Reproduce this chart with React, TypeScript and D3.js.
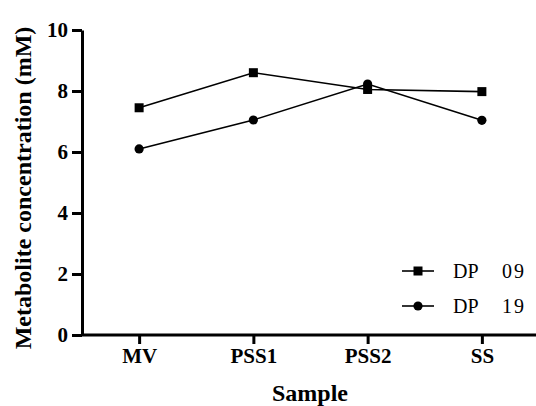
import { useEffect, useRef } from 'react'
import * as d3 from 'd3'

const SAMPLES = ['MV', 'PSS1', 'PSS2', 'SS']
const DP09 = [7.45, 8.6, 8.05, 7.98]
const DP19 = [6.1, 7.05, 8.23, 7.04]
const Y_TICKS = [0, 2, 4, 6, 8, 10]

const FONT = '"Liberation Serif", "Times New Roman", serif'

export default function App() {
  const svgRef = useRef<SVGSVGElement>(null)

  useEffect(() => {
    if (!svgRef.current) return
    const W = 536
    const H = 406
    const left = 82, top = 30, bottom = 335, right = 539

    const svg = d3.select(svgRef.current)
    svg.selectAll('*').remove()
    svg.attr('width', W).attr('height', H)

    const x = d3.scalePoint<string>().domain(SAMPLES).range([left, right]).padding(0.5)
    const y = d3.scaleLinear().domain([0, 10]).range([bottom, top])

    // y axis
    const gy = svg.append('g').attr('transform', `translate(${left},0)`)
      .call(d3.axisLeft(y).tickValues(Y_TICKS).tickSize(10).tickPadding(4).tickSizeOuter(0))
    gy.select('.domain').attr('stroke', '#000').attr('stroke-width', 3)
    gy.selectAll('.tick line').attr('stroke', '#000').attr('stroke-width', 3)
    gy.selectAll('.tick text')
      .attr('fill', '#000').attr('font-family', FONT).attr('font-weight', 'bold').attr('font-size', 21)

    // x axis
    const gx = svg.append('g').attr('transform', `translate(0,${bottom})`)
      .call(d3.axisBottom(x).tickSize(9).tickPadding(4).tickSizeOuter(0))
    gx.select('.domain').attr('stroke', '#000').attr('stroke-width', 3)
      .attr('d', `M${left},0H${W}`)
    gx.selectAll('.tick line').attr('stroke', '#000').attr('stroke-width', 3)
    gx.selectAll('.tick text')
      .attr('fill', '#000').attr('font-family', FONT).attr('font-weight', 'bold').attr('font-size', 21)

    // titles
    svg.append('text')
      .attr('x', 310).attr('y', 401)
      .attr('text-anchor', 'middle')
      .attr('font-family', FONT).attr('font-weight', 'bold').attr('font-size', 24)
      .text('Sample')
    svg.append('text')
      .attr('transform', 'translate(31,188) rotate(-90)')
      .attr('text-anchor', 'middle')
      .attr('font-family', FONT).attr('font-weight', 'bold').attr('font-size', 24)
      .text('Metabolite concentration (mM)')

    const line = d3.line<number>()
      .x((_, i) => x(SAMPLES[i]) as number)
      .y(d => y(d))

    const series = [
      { name: 'DP', num: '09', values: DP09, shape: 'square' },
      { name: 'DP', num: '19', values: DP19, shape: 'circle' },
    ]

    const drawMarker = (g: any, cx: number, cy: number, shape: string) => {
      if (shape === 'square') {
        g.append('rect').attr('x', cx - 4.5).attr('y', cy - 4.5)
          .attr('width', 9).attr('height', 9).attr('fill', '#000')
      } else {
        g.append('circle').attr('cx', cx).attr('cy', cy).attr('r', 4.6).attr('fill', '#000')
      }
    }

    series.forEach(s => {
      svg.append('path')
        .attr('d', line(s.values))
        .attr('fill', 'none').attr('stroke', '#000').attr('stroke-width', 1.6)
      const g = svg.append('g')
      s.values.forEach((v, i) => drawMarker(g, x(SAMPLES[i]) as number, y(v), s.shape))
    })

    // legend
    series.forEach((s, i) => {
      const ly = 271 + i * 35
      const g = svg.append('g')
      g.append('line').attr('x1', 402).attr('x2', 434).attr('y1', ly).attr('y2', ly)
        .attr('stroke', '#000').attr('stroke-width', 1.6)
      drawMarker(g, 418, ly, s.shape)
      g.append('text').attr('x', 453).attr('y', ly + 7)
        .attr('font-family', FONT).attr('font-size', 20).text(s.name)
      g.append('text').attr('x', 502).attr('y', ly + 7)
        .attr('font-family', FONT).attr('font-size', 20).attr('letter-spacing', 2).text(s.num)
    })
  }, [])

  return (
    <div style={{ position: 'absolute', left: 0, top: 0 }}>
      <svg ref={svgRef} style={{ display: 'block' }} />
    </div>
  )
}
